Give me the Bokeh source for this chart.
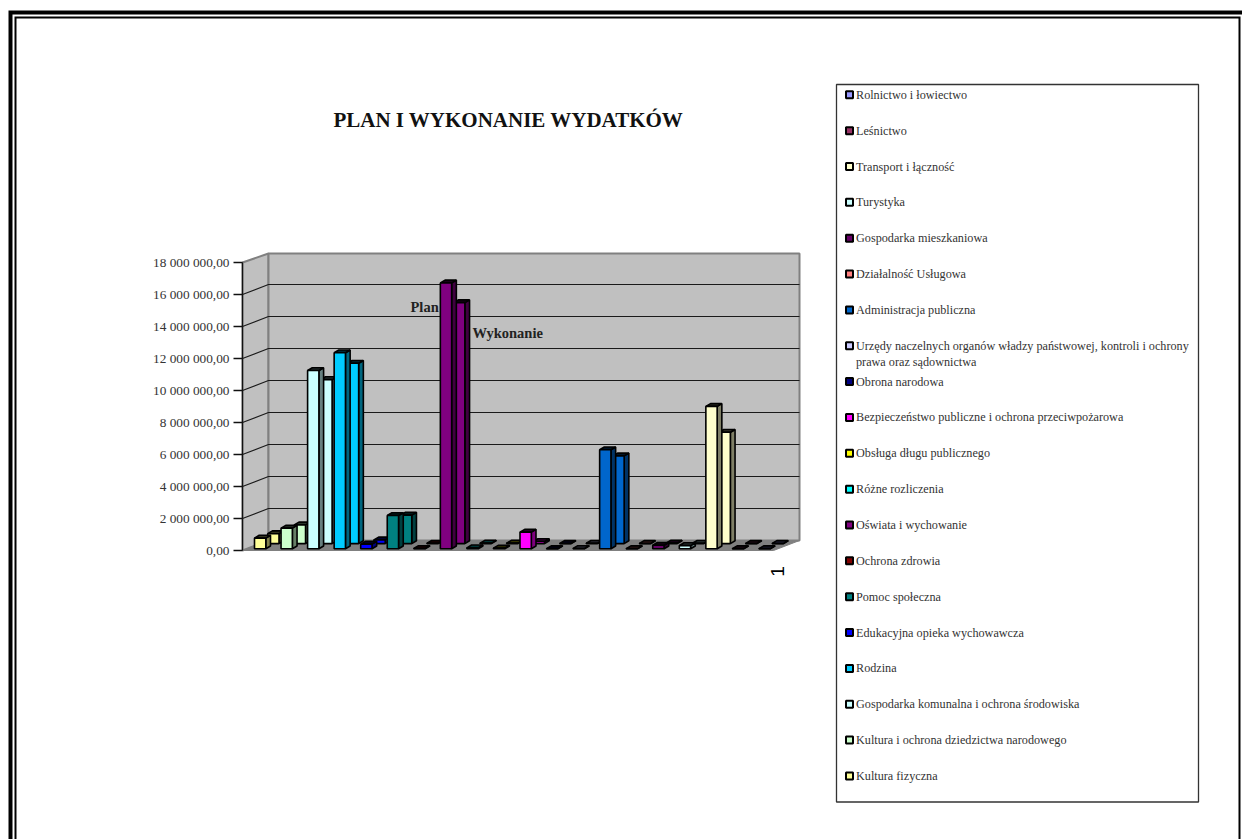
from bokeh.plotting import figure
from bokeh.embed import file_html
from bokeh.resources import INLINE
from bokeh.models import Range1d, LinearAxis, FixedTicker
from bokeh.core.properties import value

title_text = "PLAN I WYKONANIE WYDATKÓW"
series_names = ["Plan", "Wykonanie"]
categories = [
    "Rolnictwo i łowiectwo", "Leśnictwo", "Transport i łączność", "Turystyka",
    "Gospodarka mieszkaniowa", "Działalność Usługowa", "Administracja publiczna",
    "Urzędy naczelnych organów władzy państwowej, kontroli i ochrony\nprawa oraz sądownictwa",
    "Obrona narodowa", "Bezpieczeństwo publiczne i ochrona przeciwpożarowa",
    "Obsługa długu publicznego", "Różne rozliczenia", "Oświata i wychowanie",
    "Ochrona zdrowia", "Pomoc społeczna", "Edukacyjna opieka wychowawcza", "Rodzina",
    "Gospodarka komunalna i ochrona środowiska", "Kultura i ochrona dziedzictwa narodowego",
    "Kultura fizyczna",
]
colors = [
    "#9999FF", "#993366", "#FFFFCC", "#CCFFFF", "#660066", "#FF8080", "#0066CC",
    "#CCCCFF", "#000080", "#FF00FF", "#FFFF00", "#00FFFF", "#800080", "#800000",
    "#008080", "#0000FF", "#00CCFF", "#CCFFFF", "#CCFFCC", "#FFFF99",
]
plan = [
    10000, 10000, 8900000, 200000, 220000, 10000, 6190000, 20000, 10000, 1040000,
    40000, 60000, 16620000, 20000, 2080000, 290000, 12250000, 11140000, 1290000, 670000,
]
wykonanie = [
    10000, 10000, 6960000, 20000, 30000, 10000, 5480000, 20000, 10000, 130000,
    30000, 30000, 15060000, 20000, 1780000, 230000, 11270000, 10250000, 1170000, 620000,
]
y_ticks = [0, 2000000, 4000000, 6000000, 8000000, 10000000, 12000000, 14000000, 16000000, 18000000]
y_tick_labels = ["0,00", "2 000 000,00", "4 000 000,00", "6 000 000,00", "8 000 000,00",
                 "10 000 000,00", "12 000 000,00", "14 000 000,00", "16 000 000,00", "18 000 000,00"]
category_axis_label = "1"

W, H = 1242, 839
PX_X = 26.55          # pixels per category
PX_Y = 16 / 1e6       # pixels per unit of value
X0, Y0 = 242, 550     # page position of the axes' origin


def dx(px):
    return px / PX_X


def dy(px):
    return px / PX_Y


def shade(c, f):
    r, g, b = int(c[1:3], 16), int(c[3:5], 16), int(c[5:7], 16)
    return "#%02x%02x%02x" % (int(r * f), int(g * f), int(b * f))


p = figure(
    width=W, height=H, output_backend="svg", toolbar_location=None,
    x_range=Range1d(-X0 / PX_X, (W - X0) / PX_X),
    y_range=Range1d(-(H - Y0) / PX_Y, Y0 / PX_Y),
    x_axis_location=None, y_axis_location=None, min_border=0,
    outline_line_color=None, background_fill_color="white",
)
p.grid.visible = False
p.extra_x_ranges["px"] = Range1d(0, W)
p.extra_y_ranges["px"] = Range1d(H, 0)
PX = dict(x_range_name="px", y_range_name="px")

SERIF = value("Liberation Serif")

# Page border, double line
p.line([10, 10, 1250], [845, 12, 12], line_color="black", line_width=4, line_join="miter", **PX)
p.line([15, 15, 1239, 1239], [845, 17, 17, 845], line_color="black", line_width=2, line_join="miter", **PX)

# 3D box, positioned from the axes' scales
n = len(categories)
depth_x, depth_y = dx(26), dy(10)
front_w = dx(531)
zero, top = 0, y_ticks[-1]
wall_grey, floor_grey = "#C0C0C0", "#808080"
p.patch([0, depth_x, depth_x, 0], [zero, depth_y, top + depth_y * 0.9, top],
        fill_color=wall_grey, line_color=floor_grey, line_width=2)
p.patch([depth_x, depth_x + front_w, depth_x + front_w, depth_x],
        [depth_y, depth_y, top + depth_y * 0.9, top + depth_y * 0.9],
        fill_color=wall_grey, line_color=floor_grey, line_width=2)
p.patch([0, front_w, front_w + depth_x, depth_x], [zero, zero, depth_y, depth_y],
        fill_color=floor_grey, line_color=floor_grey, line_width=1)
for t in y_ticks[1:-1]:
    p.line([0, depth_x, depth_x + front_w], [t, t + depth_y, t + depth_y],
           line_color="#1a1a1a", line_width=1.1)


def bars(values, off_px_x, off_px_y):
    w, ox, oy = dx(11.3), dx(off_px_x), dy(off_px_y)
    sx, sy = dx(4.7), dy(2.8)
    for i, (v, c) in enumerate(zip(values, colors)):
        # category n-1-i from the left; legend lists them in reverse
        x = n - 1 - i + ox
        b = oy
        t = oy + v
        p.patch([x + w, x + w + sx, x + w + sx, x + w], [b, b + sy, t + sy, t],
                fill_color=shade(c, 0.5), line_color="black", line_width=1.6)
        p.patch([x, x + w, x + w + sx, x + sx], [t, t, t + sy, t + sy],
                fill_color=shade(c, 0.2), line_color="black", line_width=1.6)
        p.quad(left=[x], right=[x + w], bottom=[b], top=[t],
               fill_color=c, line_color="black", line_width=1.6)


bars(wykonanie, 12 + 13.2, 1.7 + 5.2)
bars(plan, 12, 1.7)

# Value axis
ax = LinearAxis(fixed_location=0, ticker=FixedTicker(ticks=y_ticks),
                major_label_overrides={t: s for t, s in zip(y_ticks, y_tick_labels)},
                bounds=(0, 18000000), axis_line_color="#111111", axis_line_width=1.3,
                major_tick_line_color="#111111", major_tick_line_width=1.3,
                major_tick_out=9, major_tick_in=0, minor_tick_line_color=None,
                major_label_standoff=4, major_label_text_font="Liberation Serif",
                major_label_text_font_size="13.3px", major_label_text_color="#333333")
p.add_layout(ax, "left")

# Category axis label
p.text([n + dx(4)], [-dy(21)], text=[category_axis_label], angle=[1.5708],
       text_font=value("Liberation Sans"), text_font_size="19px", text_color="black",
       text_align="center", text_baseline="middle")

# Title and series labels
p.text([508], [119], text=[title_text], text_font=SERIF, text_font_style="bold",
       text_font_size="21px", text_color="#111111", text_align="center", text_baseline="middle", **PX)
p.text([410], [306], text=[series_names[0]], text_font=SERIF, text_font_style="bold",
       text_font_size="14.5px", text_color="#222222", text_align="left", text_baseline="middle", **PX)
p.text([472], [332], text=[series_names[1]], text_font=SERIF, text_font_style="bold",
       text_font_size="14.5px", text_color="#222222", text_align="left", text_baseline="middle", **PX)

# Legend box
p.quad(left=[836], right=[1198], top=[84], bottom=[801.5], fill_color="white",
       line_color="#333333", line_width=1.3, **PX)
for i, (name, c) in enumerate(zip(categories, colors)):
    yy = 94.3 + 35.85 * i
    p.scatter([849], [yy], marker="square", size=7, fill_color=c, line_color="black", line_width=2, **PX)
    for j, line in enumerate(name.split("\n")):
        p.text([855.5], [yy + j * 16.4], text=[line], text_font=SERIF, text_font_size="12.2px",
               text_color="#333333", text_align="left", text_baseline="middle", **PX)

open("out.html", "w").write(file_html(p, INLINE))
